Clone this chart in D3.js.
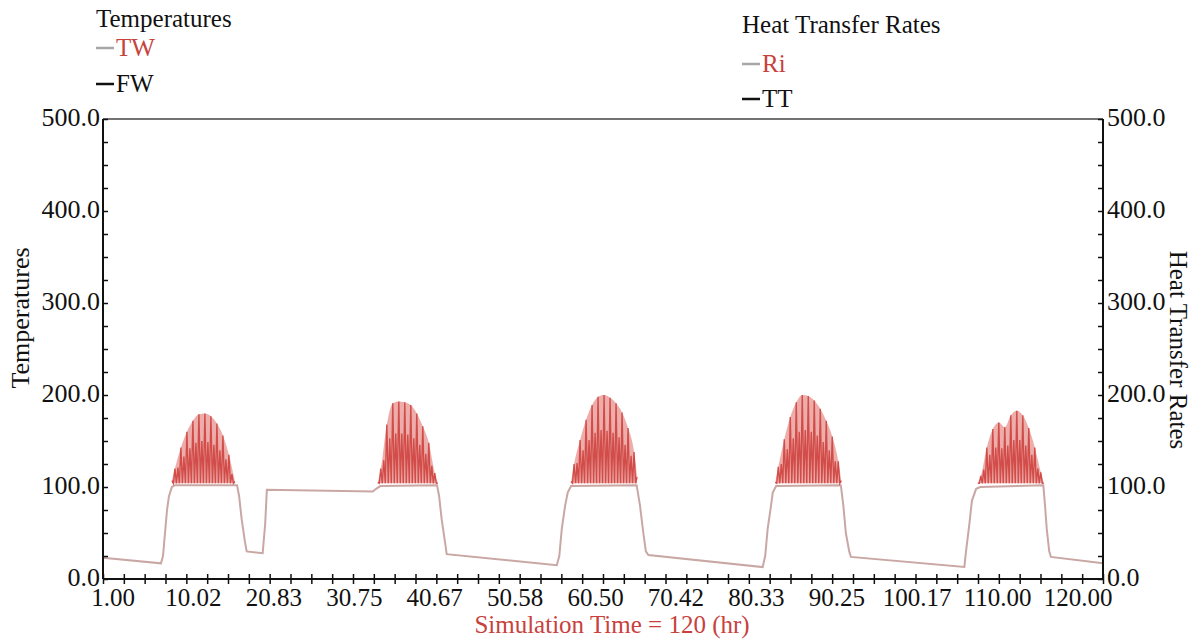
<!DOCTYPE html>
<html>
<head>
<meta charset="utf-8">
<script src="https://cdn.jsdelivr.net/npm/d3@7/dist/d3.min.js"></script>
<style>
  body { margin: 0; background: #fff; }
  svg text { font-family: "Liberation Serif", "DejaVu Serif", serif; fill: #111; }
  .axis path { display: none; }
</style>
</head>
<body>
<div id="chart"></div>
<script>
// bottom axis labels as printed by the simulator
const xTickLabels = ['1.00', '10.02', '20.83', '30.75', '40.67', '50.58', '60.50',
                     '70.42', '80.33', '90.25', '100.17', '110.00', '120.00'];
const yTickValues = [0, 100, 200, 300, 400, 500];

// TW: water temperature, hours and values
const twHours  = [1.0, 7.9, 8.14, 8.38, 8.62, 8.85, 9.2, 9.57, 16.95, 17.2, 17.5, 17.9, 18.1,
                  20.0, 20.3, 20.5, 33.1, 33.5, 34.0, 40.75, 41.0, 41.3, 41.7, 41.9,
                  55.0, 55.3, 55.6, 56.0, 56.3, 56.7, 64.5, 64.9, 65.3, 65.6, 65.9,
                  79.5, 79.8, 80.1, 80.5, 80.7, 81.1, 88.8, 89.1, 89.4, 89.8, 90.0,
                  103.5, 103.7, 104.1, 104.4, 104.9, 105.4, 112.9, 113.1, 113.3, 113.6, 113.8, 120.0];
const twValues = [23, 17, 25, 50, 75, 90, 100, 102, 102, 90, 65, 40, 30,
                  28, 60, 97, 95, 98, 101, 102, 90, 65, 40, 27,
                  15, 25, 55, 80, 94, 101, 102, 80, 50, 30, 26,
                  13, 25, 55, 80, 94, 101, 102, 80, 50, 30, 24,
                  13, 30, 60, 85, 98, 100, 102, 80, 55, 30, 24, 17];

// Ri: heat transfer rate, oscillating during the five heating periods
const riStart  = [9.2, 33.7, 56.7, 81.0, 105.1];   // hr
const riStep   = 0.357;                             // hr between peaks
const riTrough = [104, 104, 104, 104, 104];
const riPeaks1 = [107, 120, 121, 143, 133, 160, 142, 172, 148, 179, 150, 180, 149, 177, 146, 169, 140, 156, 130, 135, 114, 106];
const riPeaks2 = [105, 120, 129, 168, 153, 191, 158, 193, 158, 192, 157, 189, 153, 180, 146, 166, 136, 148, 123, 115, 104];
const riPeaks3 = [106, 125, 126, 151, 140, 173, 151, 189, 159, 198, 162, 200, 161, 197, 159, 191, 154, 181, 146, 164, 134, 138, 111];
const riPeaks4 = [105, 122, 125, 152, 141, 176, 153, 192, 160, 200, 162, 199, 160, 194, 156, 185, 149, 172, 140, 155, 128, 128, 107];
const riPeaks5 = [104, 112, 119, 143, 135, 163, 143, 170, 142, 165, 145, 178, 151, 183, 151, 178, 145, 164, 135, 143, 120, 116, 104];

const width = 1199, height = 639;
const margin = { top: 119, right: 96, bottom: 60, left: 103 };
const red = '#c8413d';

const svg = d3.select('#chart').append('svg')
              .attr('width', width)
              .attr('height', height);

const x = d3.scaleLinear().domain([1, 120]).range([margin.left, width - margin.right]);
const y = d3.scaleLinear().domain([0, 500]).range([height - margin.bottom, margin.top]);
const xLabel = d3.scalePoint().domain(xTickLabels).range([113, 1078]);

const x0 = x.range()[0], x1 = x.range()[1];
const y0 = y.range()[0], y1 = y.range()[1];

// series
const line = d3.line().x(d => x(d[0])).y(d => y(d[1]));
const area = d3.area().x(d => x(d[0])).y1(d => y(d[1])).y0(d => y(d[2]))
               .curve(d3.curveMonotoneX);

svg.append('path')
   .datum(twHours.map((h, i) => [h, twValues[i]]))
   .attr('fill', 'none')
   .attr('stroke', '#c9a7a4')
   .attr('stroke-width', 2)
   .attr('d', line);

[riPeaks1, riPeaks2, riPeaks3, riPeaks4, riPeaks5].forEach((peaks, b) => {
   const pts = [];
   const top = [];
   peaks.forEach((p, i) => {
      const t = riStart[b] + i * riStep;
      pts.push([t, p]);
      if (i % 2 === 1 || i === 0 || i === peaks.length - 1) top.push([t, p, riTrough[b]]);
      if (i < peaks.length - 1) pts.push([t + riStep / 2, riTrough[b]]);
   });
   // pale body of the oscillation band
   svg.append('path')
      .datum(top)
      .attr('fill', '#e99a96')
      .attr('fill-opacity', 0.8)
      .attr('d', area);
   svg.append('path')
      .datum(pts)
      .attr('fill', 'none')
      .attr('stroke', '#cc3b37')
      .attr('stroke-opacity', 0.85)
      .attr('stroke-width', 1.4)
      .attr('d', line);
});

// frame
svg.append('line').attr('x1', x0).attr('x2', x1).attr('y1', y1).attr('y2', y1)
   .attr('stroke', '#444').attr('stroke-width', 1.3);
[[x0, y1, x0, y0], [x1, y1, x1, y0], [x0, y0, x1, y0]].forEach(l => {
   svg.append('line')
      .attr('x1', l[0]).attr('y1', l[1]).attr('x2', l[2]).attr('y2', l[3])
      .attr('stroke', '#111').attr('stroke-width', 2);
});

// ticks
const yMinor = d3.range(0, 501, 25);
svg.append('g').attr('class', 'axis')
   .attr('transform', `translate(${x0},0)`)
   .call(d3.axisRight(y).tickValues(yMinor).tickSize(5).tickFormat(''))
   .selectAll('line').attr('stroke', '#111').attr('stroke-width', 1.5);
svg.append('g').attr('class', 'axis')
   .attr('transform', `translate(${x1},0)`)
   .call(d3.axisLeft(y).tickValues(yMinor).tickSize(5).tickFormat(''))
   .selectAll('line').attr('stroke', '#111').attr('stroke-width', 1.5);

const xMinor = d3.range(49).map(i => 1 + i * 119 / 48);
svg.append('g').attr('class', 'axis')
   .attr('transform', `translate(0,${y0})`)
   .call(d3.axisBottom(x).tickValues(xMinor).tickSize(5).tickFormat(''))
   .selectAll('line').attr('y1', -5).attr('stroke', '#111').attr('stroke-width', 1.5);

// tick labels
const fmt = d3.format('.1f');
svg.append('g').selectAll('text')
   .data(yTickValues).enter().append('text')
      .attr('x', x0 - 3)
      .attr('y', d => y(d) + 7)
      .attr('text-anchor', 'end')
      .attr('font-size', 26)
      .text(fmt);
svg.append('g').selectAll('text')
   .data(yTickValues).enter().append('text')
      .attr('x', x1 + 4)
      .attr('y', d => y(d) + 7)
      .attr('font-size', 26)
      .text(fmt);
svg.append('g').selectAll('text')
   .data(xTickLabels).enter().append('text')
      .attr('x', d => xLabel(d))
      .attr('y', 606)
      .attr('text-anchor', 'middle')
      .attr('font-size', 25)
      .text(d => d);

// axis titles
svg.append('text')
   .attr('transform', 'translate(29,318) rotate(-90)')
   .attr('text-anchor', 'middle')
   .attr('font-size', 26)
   .text('Temperatures');
svg.append('text')
   .attr('transform', 'translate(1170,350) rotate(90)')
   .attr('text-anchor', 'middle')
   .attr('font-size', 25)
   .text('Heat Transfer Rates');
svg.append('text')
   .attr('x', 612).attr('y', 633)
   .attr('text-anchor', 'middle')
   .attr('font-size', 25)
   .style('fill', red)
   .text('Simulation Time = 120 (hr)');

// legends
const legends = [
   { title: 'Temperatures', x: 96, y: 27, items: [
      { name: 'TW', dash: '#a9a6a4', color: red, y: 56 },
      { name: 'FW', dash: '#111', color: '#111', y: 92 }
   ]},
   { title: 'Heat Transfer Rates', x: 742, y: 33, items: [
      { name: 'Ri', dash: '#a9a6a4', color: red, y: 72 },
      { name: 'TT', dash: '#111', color: '#111', y: 107 }
   ]}
];
legends.forEach(lg => {
   svg.append('text').attr('x', lg.x).attr('y', lg.y)
      .attr('font-size', 25).text(lg.title);
   lg.items.forEach(it => {
      svg.append('line')
         .attr('x1', lg.x).attr('x2', lg.x + 18)
         .attr('y1', it.y - 8).attr('y2', it.y - 8)
         .attr('stroke', it.dash).attr('stroke-width', 2.5);
      svg.append('text').attr('x', lg.x + 20).attr('y', it.y)
         .attr('font-size', 25).style('fill', it.color).text(it.name);
   });
});
</script>
</body>
</html>
